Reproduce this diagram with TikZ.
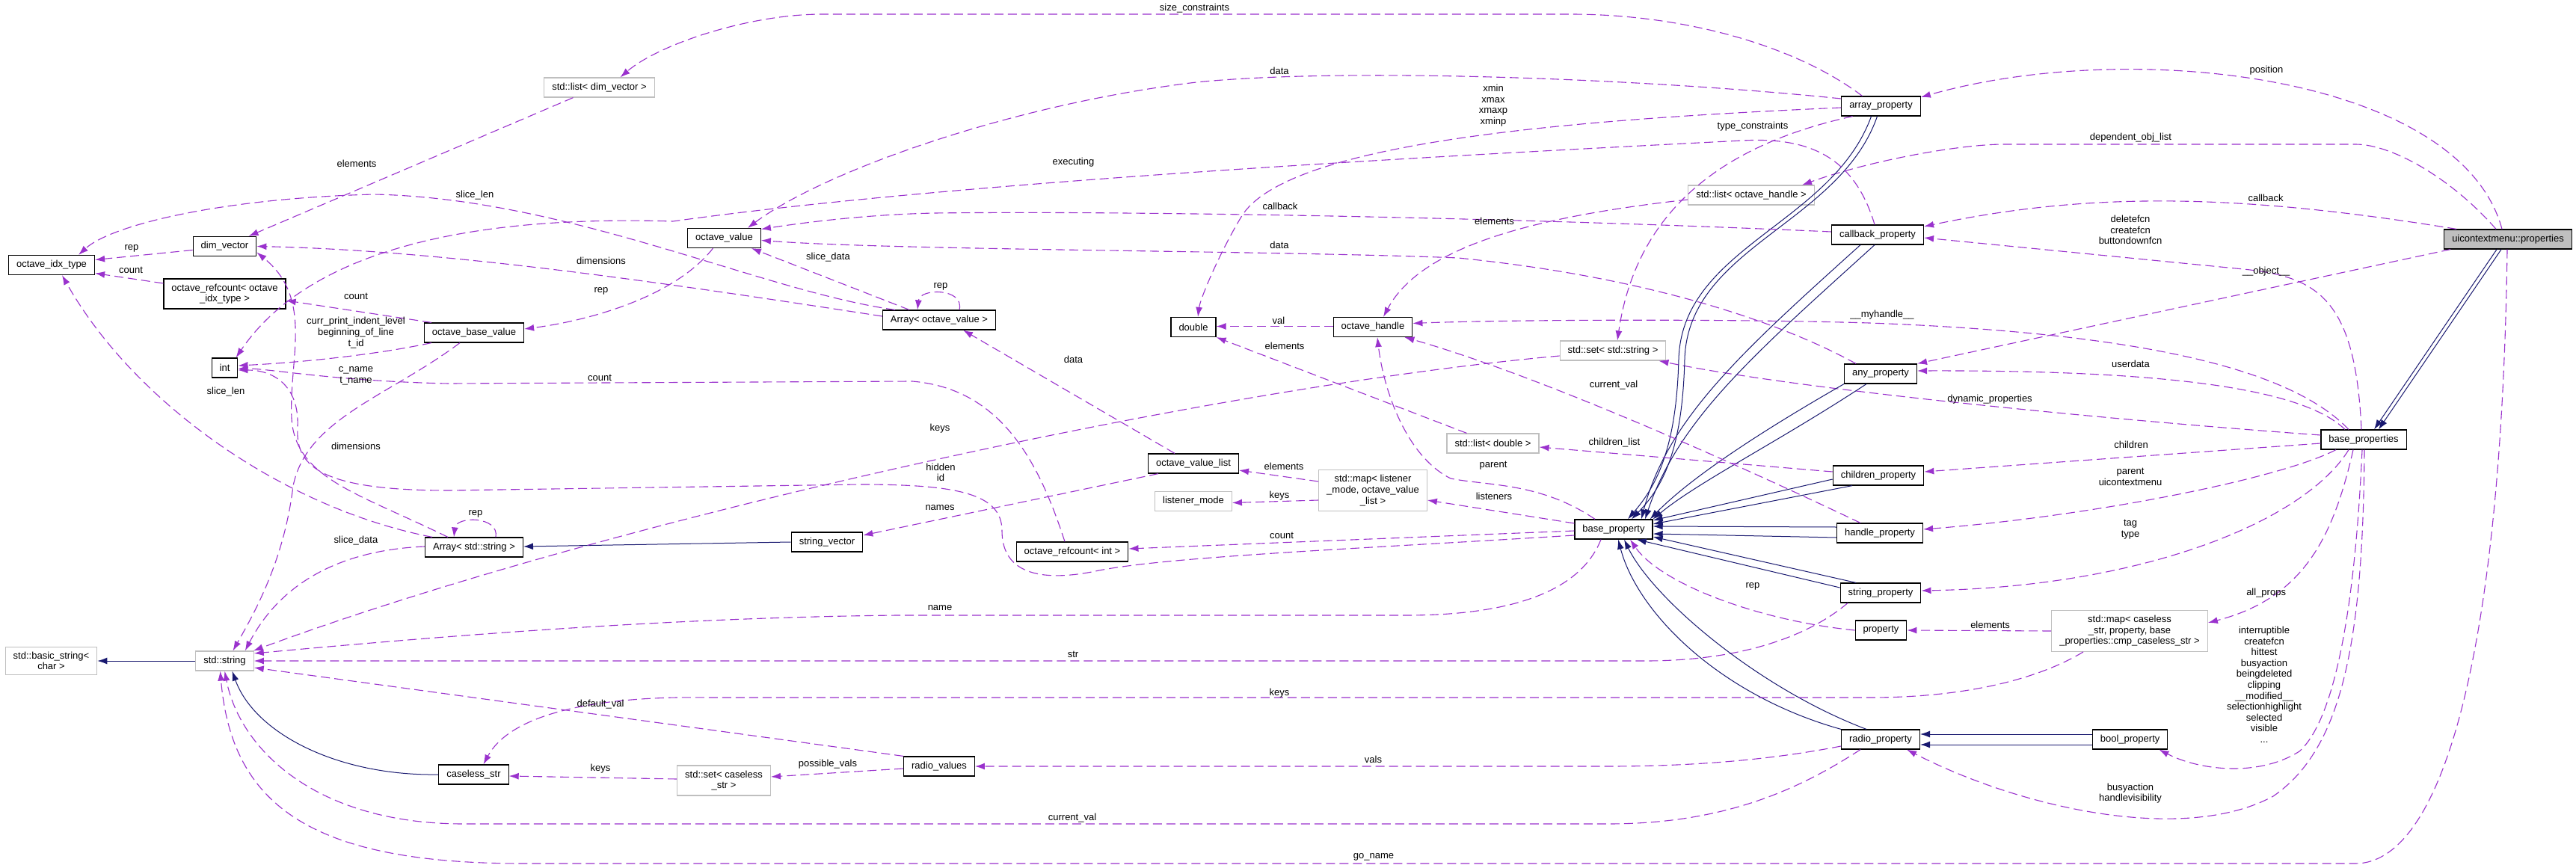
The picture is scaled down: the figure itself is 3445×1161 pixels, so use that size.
\documentclass[tikz,border=0pt]{standalone}
\usepackage{fontspec}
\setmainfont{Liberation Sans}
\usetikzlibrary{arrows.meta}
\definecolor{edgepurple}{HTML}{9A32CD}
\definecolor{inhblue}{HTML}{191970}
\definecolor{extgray}{HTML}{BFBFBF}
\begin{document}
\begin{tikzpicture}[x=1pt,y=-1pt,
  docbox/.style={rectangle,draw=black,line width=1.2pt,fill=white,inner xsep=10.5pt,inner ysep=6.7pt,minimum height=26pt,align=center,font=\fontsize{13}{14.6}\selectfont},
  extbox/.style={docbox,draw=extgray},
  curbox/.style={docbox,fill=extgray},
  memb/.style={draw=edgepurple,line width=1.1pt,dash pattern=on 12pt off 6pt,-{Latex[length=13pt,width=9pt]}},
  inher/.style={draw=inhblue,line width=1pt,-{Latex[length=13pt,width=9pt]}},
  lbl/.style={inner sep=0pt,align=center,font=\fontsize{13}{14.6}\selectfont}]
  \fill[white] (0,0) rectangle (3445,1161);
  \useasboundingbox (0,0) rectangle (3445,1161);
  \node[docbox] (idx) at (69,354.5) {octave\_idx\_type};
  \node[docbox] (dimv) at (300.5,329.5) {dim\_vector};
  \node[docbox] (rcidx) at (300.5,393) {octave\_refcount< octave\\\_idx\_type >};
  \node[docbox] (intn) at (300.5,492) {int};
  \node[docbox] (obv) at (634,445) {octave\_base\_value};
  \node[extbox] (ldim) at (801.5,117) {std::list< dim\_vector >};
  \node[docbox] (ov) at (968.5,318.5) {octave\_value};
  \node[docbox] (aov) at (1256,428) {Array< octave\_value >};
  \node[docbox] (dbl) at (1596,437.5) {double};
  \node[extbox] (bstr) at (68.5,884) {std::basic\_string<\\char >};
  \node[extbox] (str) at (300.5,884) {std::string};
  \node[docbox] (astr) at (634,732) {Array< std::string >};
  \node[docbox] (cstr) at (633.5,1036) {caseless\_str};
  \node[docbox] (sv) at (1106,725) {string\_vector};
  \node[extbox] (setcs) at (968,1044) {std::set< caseless\\\_str >};
  \node[docbox] (rv) at (1256,1025) {radio\_values};
  \node[docbox] (ovl) at (1596,620) {octave\_value\_list};
  \node[extbox] (lmode) at (1596,670.5) {listener\_mode};
  \node[docbox] (rcint) at (1434,738) {octave\_refcount< int >};
  \node[docbox] (oh) at (1836,437.5) {octave\_handle};
  \node[extbox] (lmap) at (1836,656) {std::map< listener\\\_mode, octave\_value\\\_list >};
  \node[extbox] (ldbl) at (1996.5,593) {std::list< double >};
  \node[extbox] (sset) at (2157,469) {std::set< std::string >};
  \node[docbox] (bp) at (2158,708) {base\_property};
  \node[extbox] (loh) at (2342,261) {std::list< octave\_handle >};
  \node[docbox] (ap) at (2515.5,142) {array\_property};
  \node[docbox] (cbp) at (2511,314) {callback\_property};
  \node[docbox] (anyp) at (2515,500) {any\_property};
  \node[docbox] (chp) at (2512,636) {children\_property};
  \node[docbox] (hp) at (2514,713) {handle\_property};
  \node[docbox] (sp) at (2515,793) {string\_property};
  \node[docbox] (prop) at (2515.5,843) {property};
  \node[docbox] (rp) at (2515,989) {radio\_property};
  \node[extbox] (pmap) at (2848,844) {std::map< caseless\\\_str, property, base\\\_properties::cmp\_caseless\_str >};
  \node[docbox] (boolp) at (2848.6,989) {bool\_property};
  \node[docbox] (bps) at (3161,588) {base\_properties};
  \node[curbox] (uprops) at (3354,320) {uicontextmenu::properties};
  \draw[inher] ([xshift=-15pt]uprops.south) -- ([xshift=14pt]bps.north);
  \draw[inher] ([xshift=-9pt]uprops.south) -- ([xshift=20pt]bps.north);
  \draw[memb] ([xshift=-8pt]uprops.north) .. controls (3290,100) and (2850,50) .. ([yshift=12pt]ap.east);
  \draw[memb] ([xshift=-16pt]uprops.north) .. controls (3280,240) and (3200,193) .. (3150,193) -- (2680,193) .. controls (2620,193) and (2500,215) .. ([xshift=68pt]loh.north);
  \draw[memb] ([xshift=17pt]uprops.north west) .. controls (3000,260) and (2800,255) .. ([yshift=11pt]cbp.east);
  \draw[memb] ([xshift=9pt]uprops.south west) -- (anyp.north east);
  \draw[memb] ([xshift=-1pt]uprops.south) .. controls (3345,900) and (3260,1155) .. (3150,1155) -- (700,1155) .. controls (420,1155) and (310,1080) .. ([xshift=-6pt]str.south);
  \draw[memb] ([xshift=-3pt]bps.north) .. controls (3150,400) and (3100,370) .. (3000,360) -- ([yshift=-4pt]cbp.east);
  \draw[memb] ([xshift=-25pt]bps.north) .. controls (3080,520) and (2900,495) .. ([yshift=4pt]anyp.east);
  \draw[memb] ([xshift=-20pt]bps.north) .. controls (3060,490) and (2850,445) .. (2500,432) .. controls (2300,426) and (2000,428) .. ([yshift=5pt]oh.east);
  \draw[memb] ([yshift=6pt]bps.west) .. controls (2800,560) and (2400,520) .. ([xshift=-10pt]sset.south east);
  \draw[memb] ([yshift=-5pt]bps.west) -- ([yshift=5pt]chp.east);
  \draw[memb] ([xshift=-37pt]bps.south) .. controls (3050,640) and (2800,690) .. ([yshift=5pt]hp.east);
  \draw[memb] ([xshift=-20pt]bps.south) .. controls (3080,700) and (2860,785) .. ([yshift=3pt]sp.east);
  \draw[memb] ([xshift=-14pt]bps.south) .. controls (3120,720) and (3080,800) .. ([yshift=11pt]pmap.east);
  \draw[memb] ([xshift=-2pt]bps.south) .. controls (3150,800) and (3125,960) .. (3075,1005) .. controls (3020,1040) and (2940,1030) .. ([xshift=-12pt]boolp.south east);
  \draw[memb] ([xshift=1pt]bps.south) .. controls (3160,850) and (3135,1000) .. (3040,1065) .. controls (2920,1130) and (2700,1080) .. ([xshift=-18pt]rp.south east);
  \draw[memb] ([xshift=-25pt]ap.north) .. controls (2400,60) and (2250,19) .. (2100,19) -- (1100,19) .. controls (1000,19) and (880,60) .. ([xshift=28pt]ldim.north);
  \draw[memb] ([yshift=10pt]ap.west) .. controls (2200,105) and (1800,90) .. (1600,110) .. controls (1350,140) and (1100,230) .. ([xshift=-18pt]ov.north east);
  \draw[memb] ([yshift=-2pt]ap.west) .. controls (2100,160) and (1720,190) .. (1660,290) .. controls (1630,340) and (1605,400) .. ([xshift=6pt]dbl.north);
  \draw[memb] ([xshift=-38pt]ap.south) .. controls (2320,190) and (2190,270) .. ([xshift=6pt]sset.north);
  \draw[inher] ([xshift=-13pt]ap.south) .. controls (2450,300) and (2250,330) .. (2245,480) .. controls (2242,600) and (2215,650) .. ([xshift=19pt]bp.north);
  \draw[inher] ([xshift=-5pt]ap.south) .. controls (2460,300) and (2258,330) .. (2253,480) .. controls (2250,600) and (2225,650) .. ([xshift=24pt]bp.north);
  \draw[memb] ([yshift=4pt]cbp.west) .. controls (2000,290) and (1500,282) .. (1250,285) .. controls (1150,287) and (1060,300) .. ([yshift=12pt]ov.east);
  \draw[memb] ([xshift=-4pt]cbp.north) .. controls (2480,210) and (2420,183) .. (2330,188) .. controls (2000,205) and (1300,240) .. (900,296) .. controls (700,290) and (430,310) .. ([xshift=15pt]intn.north);
  \draw[inher] ([xshift=-23pt]cbp.south) .. controls (2330,470) and (2230,560) .. ([xshift=37pt]bp.north);
  \draw[inher] ([xshift=-4pt]cbp.south) .. controls (2350,470) and (2245,560) .. ([xshift=42pt]bp.north);
  \draw[memb] ([xshift=-33pt]anyp.north) .. controls (2380,430) and (2200,370) .. (1950,345) .. controls (1700,335) and (1200,335) .. ([yshift=-3pt]ov.east);
  \draw[inher] (anyp.south west) .. controls (2350,580) and (2260,640) .. ([xshift=-4pt]bp.north east);
  \draw[inher] ([xshift=-19pt]anyp.south) .. controls (2380,590) and (2270,645) .. (bp.north east);
  \draw[memb] ([yshift=5pt]chp.west) -- ([yshift=-5pt]ldbl.east);
  \draw[inher] ([yshift=-5pt]chp.west) -- ([yshift=12pt]bp.east);
  \draw[inher] ([xshift=-35pt]chp.south) -- ([yshift=7pt]bp.east);
  \draw[memb] ([xshift=-26pt]hp.north) .. controls (2300,610) and (2050,500) .. ([xshift=-11pt]oh.south east);
  \draw[inher] ([yshift=8pt]hp.west) -- ([yshift=4pt]bp.east);
  \draw[inher] ([yshift=-6pt]hp.west) -- ([yshift=-6pt]bp.east);
  \draw[inher] ([xshift=-33pt]sp.north) -- ([yshift=-10pt]bp.east);
  \draw[inher] ([yshift=7pt]sp.west) -- ([xshift=-22pt]bp.south east);
  \draw[memb] ([xshift=-44pt]sp.south) .. controls (2420,850) and (2330,884) .. (2200,884) -- (str.east);
  \draw[memb] (prop.west) .. controls (2350,830) and (2220,780) .. ([xshift=22pt]bp.south);
  \draw[inher] (rp.north west) .. controls (2300,930) and (2190,820) .. ([xshift=6pt]bp.south);
  \draw[inher] ([xshift=-19pt]rp.north) .. controls (2350,920) and (2210,800) .. ([xshift=14pt]bp.south);
  \draw[memb] ([yshift=-9pt]rp.west) .. controls (2400,1010) and (2300,1025) .. (2150,1025) -- (rv.east);
  \draw[memb] ([xshift=-27pt]rp.south) .. controls (2400,1060) and (2300,1102) .. (2150,1102) -- (620,1102) .. controls (420,1102) and (320,1000) .. (str.south);
  \draw[inher] ([yshift=7pt]boolp.west) -- ([yshift=7pt]rp.east);
  \draw[inher] ([yshift=-7pt]boolp.west) -- ([yshift=-7pt]rp.east);
  \draw[memb] (pmap.west) -- (prop.east);
  \draw[memb] ([xshift=-62pt]pmap.south) .. controls (2740,900) and (2650,933) .. (2500,933) -- (950,933) .. controls (780,930) and (680,960) .. ([xshift=13pt]cstr.north);
  \draw[memb] ([xshift=-25pt]bp.north) .. controls (2060,645) and (1990,650) .. (1940,640) .. controls (1880,610) and (1850,520) .. ([xshift=6pt]oh.south);
  \draw[memb] ([yshift=8pt]bp.west) -- ([yshift=-13pt]lmap.east);
  \draw[memb] ([yshift=-2pt]bp.west) -- ([yshift=4pt]rcint.east);
  \draw[memb] ([yshift=-8pt]bp.west) .. controls (1800,735) and (1550,745) .. (1460,765) .. controls (1380,780) and (1340,760) .. (1340,710) .. controls (1340,660) and (1280,648) .. (1150,648) -- (600,656) .. controls (420,656) and (395,620) .. (398,570) .. controls (400,520) and (370,495) .. ([yshift=-3pt]intn.east);
  \draw[memb] ([xshift=-17pt]bp.south) .. controls (2110,800) and (2000,823) .. (1880,823) -- (1200,823) .. controls (900,826) and (600,850) .. ([yshift=10pt]str.east);
  \draw[memb] ([xshift=-10pt]rcint.north) .. controls (1390,620) and (1340,520) .. (1220,510) -- (600,513) .. controls (450,510) and (360,493) .. ([yshift=-1pt]intn.east);
  \draw[memb] ([xshift=10pt]obv.south west) .. controls (500,475) and (400,485) .. ([yshift=3pt]intn.east);
  \draw[memb] ([xshift=-19pt]obv.south) .. controls (520,530) and (410,560) .. (392,650) .. controls (380,750) and (340,820) .. ([xshift=11pt]str.north);
  \draw[memb] ([xshift=10pt]obv.north west) -- ([yshift=-9pt]rcidx.east);
  \draw[memb] ([xshift=-15pt]ov.south) .. controls (900,400) and (780,430) .. ([yshift=5pt]obv.east);
  \draw[memb] ([xshift=-40pt]aov.north) -- ([xshift=-13pt]ov.south east);
  \draw[memb] ([xshift=27pt]aov.north) .. controls (1290,385) and (1230,385) .. ([xshift=-29pt]aov.north);
  \draw[memb] ([yshift=5pt]aov.west) .. controls (900,380) and (600,335) .. (dimv.east);
  \draw[memb] ([xshift=-59pt]aov.north) .. controls (1020,390) and (760,265) .. (500,260) .. controls (300,265) and (150,300) .. ([xshift=36pt]idx.north);
  \draw[memb] ([yshift=-5pt]dimv.west) -- ([yshift=7pt]idx.east);
  \draw[memb] ([yshift=14pt]rcidx.west) -- ([yshift=-11pt]idx.east);
  \draw[memb] ([xshift=-35pt]ldim.south) -- ([xshift=32pt]dimv.north);
  \draw[memb] ([xshift=10pt]astr.north west) .. controls (380,680) and (180,540) .. ([xshift=14pt]idx.south);
  \draw[memb] ([xshift=-35pt]astr.north) .. controls (480,660) and (395,640) .. (390,560) .. controls (386,480) and (420,400) .. ([yshift=-8pt]dimv.east);
  \draw[memb] ([xshift=29pt]astr.north) .. controls (668,690) and (610,690) .. ([xshift=-27pt]astr.north);
  \draw[memb] ([yshift=1pt]astr.west) .. controls (470,735) and (380,770) .. ([xshift=-12pt]str.north east);
  \draw[inher] (sv.west) -- ([yshift=1pt]astr.east);
  \draw[memb] ([xshift=-47pt]ovl.south) -- ([yshift=9pt]sv.east);
  \draw[memb] ([xshift=-25pt]ovl.north) -- ([xshift=32pt]aov.south);
  \draw[memb] ([yshift=12pt]lmap.west) -- ([yshift=-9pt]ovl.east);
  \draw[memb] ([yshift=-13pt]lmap.west) -- ([yshift=-2pt]lmode.east);
  \draw[memb] ([xshift=-35pt]ldbl.north) -- (dbl.south east);
  \draw[memb] ([yshift=1pt]oh.west) -- ([yshift=1pt]dbl.east);
  \draw[memb] ([yshift=-6pt]loh.west) .. controls (2050,290) and (1900,330) .. ([xshift=14pt]oh.north);
  \draw[memb] ([yshift=-7pt]sset.west) .. controls (1600,520) and (800,700) .. ([xshift=-1pt]str.north east);
  \draw[memb] ([yshift=-3pt]rv.west) -- ([yshift=5pt]setcs.east);
  \draw[memb] (rv.north west) -- ([yshift=-9pt]str.east);
  \draw[memb] ([yshift=2pt]setcs.west) -- ([yshift=-2pt]cstr.east);
  \draw[inher] (cstr.west) .. controls (450,1038) and (340,980) .. ([xshift=10pt]str.south);
  \draw[inher] (str.west) -- (bstr.east);
  \node[lbl] (lelem1) at (477,219) {elements};
  \node[lbl] (lslen1) at (635,261) {slice\_len};
  \node[lbl] (lrep1) at (176,332) {rep};
  \node[lbl] (lcount1) at (175,361) {count};
  \node[lbl] (ldims1) at (804,349) {dimensions};
  \node[lbl] (lrep2) at (804,389) {rep};
  \node[lbl] (lcount2) at (476,396) {count};
  \node[lbl] (lcurr) at (476,445) {curr\_print\_indent\_level\\beginning\_of\_line\\t\_id};
  \node[lbl] (lcname) at (476,503) {c\_name\\t\_name};
  \node[lbl] (lcount3) at (802,505) {count};
  \node[lbl] (lslen2) at (302,524) {slice\_len};
  \node[lbl] (ldims2) at (476,597) {dimensions};
  \node[lbl] (lrep3) at (636,687) {rep};
  \node[lbl] (lsdata1) at (476,723) {slice\_data};
  \node[lbl] (ldefval) at (803,942.5) {default\_val};
  \node[lbl] (lkeys1) at (803,1028) {keys};
  \node[lbl] (lsizec) at (1597.5,11.5) {size\_constraints};
  \node[lbl] (ldata1) at (1711,94.5) {data};
  \node[lbl] (lexec) at (1435.5,217) {executing};
  \node[lbl] (lcb1) at (1712,276) {callback};
  \node[lbl] (ldata2) at (1711,327.5) {data};
  \node[lbl] (lsdata2) at (1107.5,343.7) {slice\_data};
  \node[lbl] (lrep4) at (1258,383) {rep};
  \node[lbl] (lval) at (1710,428.6) {val};
  \node[lbl] (lelem2) at (1718,463) {elements};
  \node[lbl] (ldata3) at (1435.5,480.7) {data};
  \node[lbl] (lkeys2) at (1257,573) {keys};
  \node[lbl] (lhidden) at (1258,632) {hidden\\id};
  \node[lbl] (lnames) at (1257,679) {names};
  \node[lbl] (lelem3) at (1717,624) {elements};
  \node[lbl] (lkeys3) at (1711,663.5) {keys};
  \node[lbl] (lcount4) at (1714,716) {count};
  \node[lbl] (lname) at (1257,813) {name};
  \node[lbl] (lstr) at (1435,875) {str};
  \node[lbl] (lkeys4) at (1711,926.7) {keys};
  \node[lbl] (lposs) at (1107,1022.6) {possible\_vals};
  \node[lbl] (lcval1) at (1434,1094) {current\_val};
  \node[lbl] (lxmin) at (1997,141) {xmin\\xmax\\xmaxp\\xminp};
  \node[lbl] (ltypec) at (2344,169) {type\_constraints};
  \node[lbl] (lelem4) at (1998.5,295.5) {elements};
  \node[lbl] (lmyh) at (2517,421) {\_\_myhandle\_\_};
  \node[lbl] (lcval2) at (2158,515.5) {current\_val};
  \node[lbl] (lchl) at (2159,592) {children\_list};
  \node[lbl] (lparent1) at (1997,622.5) {parent};
  \node[lbl] (llist) at (1998,664) {listeners};
  \node[lbl] (lrep5) at (2344,784) {rep};
  \node[lbl] (lvals) at (1836.5,1016) {vals};
  \node[lbl] (lgoname) at (1837,1146.7) {go\_name};
  \node[lbl] (lpos) at (3031,94.5) {position};
  \node[lbl] (ldep) at (2849.5,184.5) {dependent\_obj\_list};
  \node[lbl] (lcb2) at (3030,265) {callback};
  \node[lbl] (ldel) at (2849,307.7) {deletefcn\\createfcn\\buttondownfcn};
  \node[lbl] (lobj) at (3030.6,362.8) {\_\_object\_\_};
  \node[lbl] (luser) at (2849.5,486.8) {userdata};
  \node[lbl] (ldyn) at (2661,534.6) {dynamic\_properties};
  \node[lbl] (lchild) at (2850,594.5) {children};
  \node[lbl] (lparent2) at (2849,637.8) {parent\\uicontextmenu};
  \node[lbl] (ltag) at (2849,708) {tag\\type};
  \node[lbl] (lallp) at (3030.6,792.7) {all\_props};
  \node[lbl] (lelem5) at (2661.6,835.6) {elements};
  \node[lbl] (lintr) at (3028,915.7) {interruptible\\createfcn\\hittest\\busyaction\\beingdeleted\\clipping\\\_\_modified\_\_\\selectionhighlight\\selected\\visible\\...};
  \node[lbl] (lbusy) at (2849,1061) {busyaction\\handlevisibility};
\end{tikzpicture}
\end{document}
